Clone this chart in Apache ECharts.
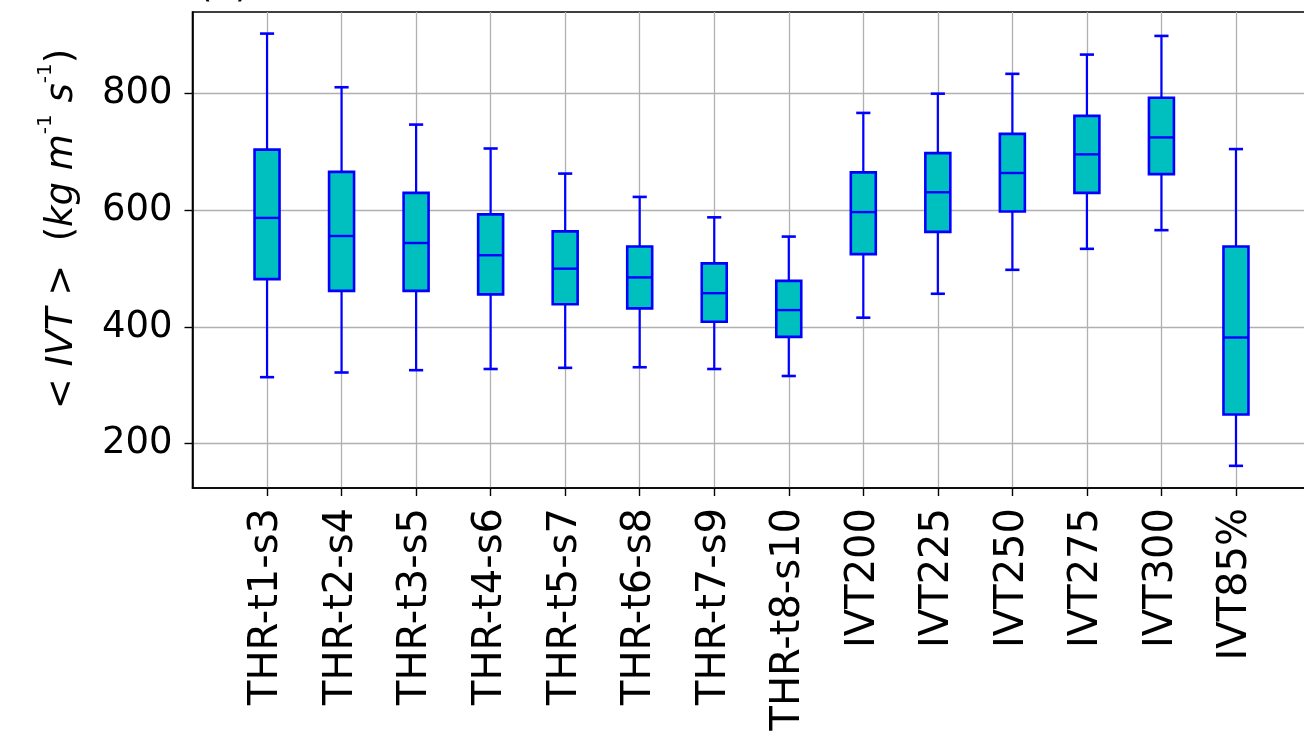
<!DOCTYPE html>
<html>
<head>
<meta charset="utf-8">
<script src="https://cdn.jsdelivr.net/npm/echarts@6/dist/echarts.min.js"></script>
<style>
html,body{margin:0;padding:0;background:#fff;}
#chart{width:1304px;height:734px;}
</style>
</head>
<body>
<div id="chart"></div>
<script>
// categories (empty entries pad the axis on both ends)
const categories = ['THR-t1-s3','THR-t2-s4','THR-t3-s5','THR-t4-s6','THR-t5-s7','THR-t6-s8','THR-t7-s9','THR-t8-s10','IVT200','IVT225','IVT250','IVT275','IVT300','IVT85%'];
const axisCategories = [''].concat(categories, ['']);
// box statistics
const whiskerLow  = [314, 322, 326, 328, 330, 331, 328, 316, 416, 457, 498, 534, 566, 162];
const q1          = [482, 462, 462, 456, 439, 432, 409, 383, 525, 563, 598, 630, 662, 250];
const median      = [587, 556, 544, 523, 500, 485, 458, 429, 597, 631, 664, 696, 725, 382];
const q3          = [704, 666, 630, 593, 564, 538, 509, 479, 665, 698, 731, 762, 793, 538];
const whiskerHigh = [903, 811, 747, 706, 663, 623, 588, 555, 767, 800, 834, 867, 899, 705];
const yTicks = [200, 400, 600, 800];

const boxData = categories.map((c, i) => [c, whiskerLow[i], q1[i], median[i], q3[i], whiskerHigh[i]]);

const FONT = 'DejaVu Sans';
const BOX_FILL = '#00bfbf';
const EDGE = '#0000ff';

function renderBox(params, api) {
  const x = api.value(0);
  const pLow = api.coord([x, api.value(1)]);
  const pQ1 = api.coord([x, api.value(2)]);
  const pMed = api.coord([x, api.value(3)]);
  const pQ3 = api.coord([x, api.value(4)]);
  const pHigh = api.coord([x, api.value(5)]);
  const unit = api.size([1, 0])[0];
  const bw = unit * 0.335;
  const cw = unit * 0.19;
  const cx = pMed[0];
  const lineStyle = {stroke: EDGE, lineWidth: 2.2, fill: null};
  return {
    type: 'group',
    children: [
      {type: 'line', shape: {x1: cx, y1: pLow[1], x2: cx, y2: pQ1[1]}, style: lineStyle},
      {type: 'line', shape: {x1: cx, y1: pQ3[1], x2: cx, y2: pHigh[1]}, style: lineStyle},
      {type: 'line', shape: {x1: cx - cw / 2, y1: pLow[1], x2: cx + cw / 2, y2: pLow[1]}, style: {stroke: EDGE, lineWidth: 2.6}},
      {type: 'line', shape: {x1: cx - cw / 2, y1: pHigh[1], x2: cx + cw / 2, y2: pHigh[1]}, style: {stroke: EDGE, lineWidth: 2.6}},
      {type: 'rect', shape: {x: cx - bw / 2, y: pQ3[1], width: bw, height: pQ1[1] - pQ3[1]},
        style: {fill: BOX_FILL, stroke: EDGE, lineWidth: 2.6}},
      {type: 'line', shape: {x1: cx - bw / 2, y1: pMed[1], x2: cx + bw / 2, y2: pMed[1]}, style: {stroke: EDGE, lineWidth: 2.4}}
    ]
  };
}

const chart = echarts.init(document.getElementById('chart'), null, {renderer: 'canvas'});
const innerIdx = (i) => i > 0 && i < axisCategories.length - 1;

chart.setOption({
  animation: false,
  backgroundColor: '#ffffff',
  textStyle: {fontFamily: FONT},
  grid: {left: 192.5, top: 12, width: 1118, height: 476, outerBoundsMode: 'none', containLabel: false,
    show: true, borderColor: '#000', borderWidth: 1.6, backgroundColor: 'transparent'},
  xAxis: {
    type: 'category',
    data: axisCategories,
    boundaryGap: false,
    axisLine: {show: true, lineStyle: {color: '#000', width: 1.6}},
    axisTick: {show: true, length: 8, interval: innerIdx, lineStyle: {color: '#000', width: 1.4}},
    axisLabel: {interval: 0, rotate: 90, margin: 20, color: '#000', fontSize: 40, fontFamily: FONT},
    splitLine: {show: true, interval: innerIdx, lineStyle: {color: '#b0b0b0', width: 1.3}}
  },
  yAxis: {
    type: 'value',
    min: 124,
    max: 940,
    axisLine: {show: true, lineStyle: {color: '#000', width: 1.6}},
    axisTick: {show: true, length: 8, customValues: yTicks, lineStyle: {color: '#000', width: 1.4}},
    axisLabel: {customValues: yTicks, margin: 20, color: '#000', fontSize: 37, fontFamily: FONT},
    splitLine: {show: true, lineStyle: {color: '#b0b0b0', width: 1.3}}
  },
  graphic: [
    {
      type: 'text',
      x: 61, y: 229,
      rotation: Math.PI / 2,
      style: {
        text: '{n|< }{i|IVT}{n| >  (}{i|kg m}{s|-1}{i| s}{s|-1}{n|)}',
        align: 'center', verticalAlign: 'middle',
        fill: '#000',
        fontFamily: FONT,
        rich: {
          n: {fontSize: 37, fontFamily: FONT, fill: '#000', lineHeight: 40, verticalAlign: 'bottom'},
          i: {fontSize: 37, fontFamily: FONT, fontStyle: 'italic', fill: '#000', lineHeight: 40, verticalAlign: 'bottom'},
          s: {fontSize: 20, fontFamily: FONT, fill: '#000', lineHeight: 20, verticalAlign: 'bottom', padding: [0, 0, 25, 0]}
        }
      }
    },
    {
      type: 'text',
      x: 198, y: 6,
      style: {text: '(a)', fontSize: 37, fontFamily: FONT, fill: '#000', verticalAlign: 'bottom', align: 'left'}
    }
  ],
  series: [{
    type: 'custom',
    renderItem: renderBox,
    encode: {x: 0, y: [1, 2, 3, 4, 5]},
    data: boxData,
    clip: false
  }]
});
</script>
</body>
</html>
